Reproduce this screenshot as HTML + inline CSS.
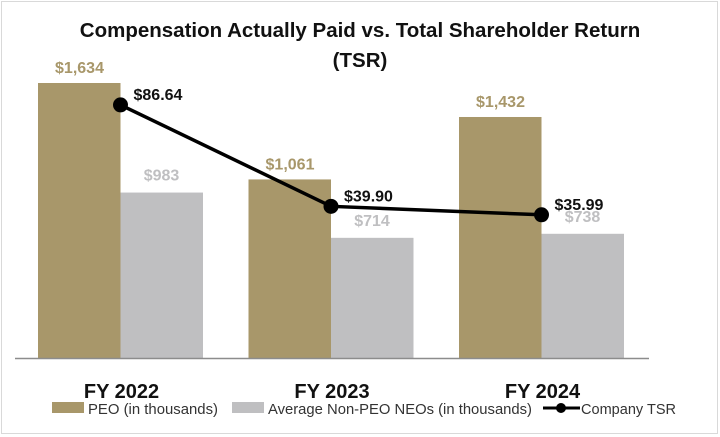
<!DOCTYPE html>
<html><head><meta charset="utf-8"><style>
body{margin:0;background:#fff;}
#c{position:absolute;left:0;top:0;width:720px;height:437px;}
text{font-family:"Liberation Sans",sans-serif;}
</style></head><body>
<svg id="c" width="720" height="437">
<rect x="1.5" y="1.5" width="716" height="432" fill="#fff" stroke="#d9d9d9"/>
<text x="360" y="37" text-anchor="middle" font-size="20.5" font-weight="bold" fill="#111">Compensation Actually Paid vs. Total Shareholder Return</text>
<text x="360" y="67" text-anchor="middle" font-size="20.5" font-weight="bold" fill="#111">(TSR)</text>
<g id="bars"></g>
<line x1="15" y1="358.5" x2="649" y2="358.5" stroke="#8c8c8c" stroke-width="1.5"/>
<g id="line"></g>
<g id="labels"></g>
<g>
<rect x="52" y="402" width="32" height="11" fill="#a8976a"/>
<text x="88" y="414" font-size="15" textLength="130" lengthAdjust="spacingAndGlyphs" fill="#333">PEO (in thousands)</text>
<rect x="232" y="402" width="32" height="11" fill="#bfbfc1"/>
<text x="268" y="414" font-size="15" textLength="264" lengthAdjust="spacingAndGlyphs" fill="#333">Average Non-PEO NEOs (in thousands)</text>
<line x1="543" y1="408" x2="580" y2="408" stroke="#000" stroke-width="3"/>
<circle cx="561" cy="408" r="5" fill="#000"/>
<text x="581" y="414" font-size="15" textLength="95" lengthAdjust="spacingAndGlyphs" fill="#333">Company TSR</text>
</g>
</svg>
<script>
const categories=["FY 2022","FY 2023","FY 2024"];
const peo=[1634,1061,1432];
const neo=[983,714,738];
const tsr=[86.64,39.90,35.99];
const peoLabels=["$1,634","$1,061","$1,432"];
const neoLabels=["$983","$714","$738"];
const tsrLabels=["$86.64","$39.90","$35.99"];
const NS="http://www.w3.org/2000/svg";
const base=358, px=0.1683;
function yL(v){return base-v*px;}
function yR(v){return base-(v+30)*2.17;}
function xC(i){return 120.5+i*210.5;}
function mk(tag,attrs,parent){const e=document.createElementNS(NS,tag);for(const k in attrs)e.setAttribute(k,attrs[k]);parent.appendChild(e);return e;}
const gb=document.getElementById('bars'),gl=document.getElementById('line'),gt=document.getElementById('labels');
categories.forEach((c,i)=>{
  const x=xC(i);
  let r=mk('rect',{x:x-82.5,y:yL(peo[i]),width:82.5,height:base-yL(peo[i]),fill:'#a8976a'},gb);
  
  
  r=mk('rect',{x:x,y:yL(neo[i]),width:82.5,height:base-yL(neo[i]),fill:'#bfbfc1'},gb);
  
  
  let t=mk('text',{x:x-41,y:yL(peo[i])-10,'text-anchor':'middle','font-size':16,'font-weight':'bold',fill:'#a8976a'},gt);
  t.textContent=peoLabels[i];
  
  
  t=mk('text',{x:x+41,y:yL(neo[i])-12,'text-anchor':'middle','font-size':16,'font-weight':'bold',fill:'#bfbfc1'},gt);
  t.textContent=neoLabels[i];
  
  
  t=mk('text',{x:x+1,y:398,'text-anchor':'middle','font-size':20,'font-weight':'bold',fill:'#111'},gt);
  t.textContent=c;
  
  
  t=mk('text',{x:x+13,y:yR(tsr[i])-5,'font-size':16,'font-weight':'bold',fill:'#111'},gt);
  t.textContent=tsrLabels[i];
  
  
});
const pl=mk('polyline',{points:tsr.map((v,i)=>xC(i)+','+yR(v)).join(' '),fill:'none',stroke:'#000','stroke-width':3.5},gl);


tsr.forEach((v,i)=>{
  const c=mk('circle',{cx:xC(i),cy:yR(v),r:7.5,fill:'#000'},gl);
  
  
});
</script>
</body></html>
